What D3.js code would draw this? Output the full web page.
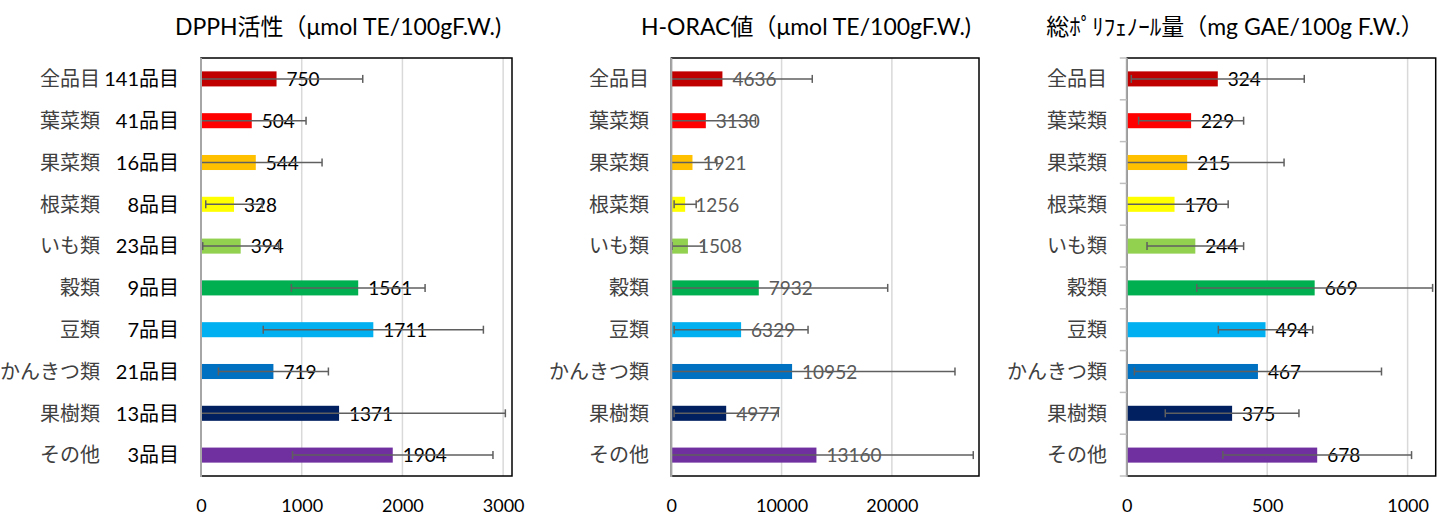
<!DOCTYPE html>
<html>
<head>
<meta charset="utf-8">
<script src="https://cdn.jsdelivr.net/npm/d3@7"></script>
<style>
  body { margin: 0; background: #fff; }
  svg text { font-family: Lato, "Noto Sans CJK JP", sans-serif; }
</style>
</head>
<body>
<div id="chart"></div>
<script>
// categories and item counts (counts only shown on the first panel)
const categories = ["全品目", "葉菜類", "果菜類", "根菜類", "いも類", "穀類", "豆類", "かんきつ類", "果樹類", "その他"];
const itemCounts = ["141品目", "41品目", "16品目", "8品目", "23品目", "9品目", "7品目", "21品目", "13品目", "3品目"];
const barColors = ["#C00000", "#FF0000", "#FFC000", "#FFFF00", "#92D050", "#00B050", "#00B0F0", "#0070C0", "#002060", "#7030A0"];

// DPPH
const dpphMean = [750, 504, 544, 328, 394, 1561, 1711, 719, 1371, 1904];
const dpphSd = [856, 539, 658, 281, 377, 664, 1093, 546, 1651, 995];
const dpphTicks = [0, 1000, 2000, 3000];

// H-ORAC
const oracMean = [4636, 3130, 1921, 1256, 1508, 7932, 6329, 10952, 4977, 13160];
const oracSd = [8147, 4500, 2200, 1000, 1430, 11690, 6070, 14770, 4720, 14220];
const oracTicks = [0, 10000, 20000];

// total polyphenol
const polyMean = [324, 229, 215, 170, 244, 669, 494, 467, 375, 678];
const polySd = [308, 187, 345, 191, 172, 420, 168, 440, 238, 336];
const polyTicks = [0, 500, 1000];

const width = 1446, height = 515;
const plotTop = 58, plotBottom = 476;

const svg = d3.select("#chart").append("svg")
    .attr("width", width)
    .attr("height", height);

function drawPanel(opt) {
    let g = svg.append("g");
    let x = d3.scaleLinear().domain([0, opt.max]).range([opt.left, opt.right]);
    let y = d3.scaleBand().domain(categories).range([plotTop, plotBottom]).paddingInner(0.64).paddingOuter(0.32);

    // title
    g.append("text")
        .attr("x", opt.titleX).attr("y", 35)
        .attr("text-anchor", "middle")
        .style("font-size", "23px")
        .attr("fill", "#000")
        .text(opt.title);

    // gridlines
    g.append("g")
        .selectAll("line").data(opt.ticks.filter(t => t > 0))
        .join("line")
        .attr("x1", d => x(d)).attr("x2", d => x(d))
        .attr("y1", plotTop).attr("y2", plotBottom)
        .attr("stroke", "#d9d9d9").attr("stroke-width", 1.5);

    // plot border
    g.append("rect")
        .attr("x", opt.left).attr("y", plotTop)
        .attr("width", opt.right - opt.left).attr("height", plotBottom - plotTop)
        .attr("fill", "none").attr("stroke", "#000").attr("stroke-width", 1.5);

    // bars
    g.append("g").selectAll("rect").data(opt.mean)
        .join("rect")
        .attr("x", x(0))
        .attr("y", (d, i) => y(categories[i]))
        .attr("width", d => x(d) - x(0))
        .attr("height", y.bandwidth())
        .attr("fill", (d, i) => barColors[i]);

    // data labels
    g.append("g").selectAll("text").data(opt.mean)
        .join("text")
        .attr("x", d => x(d) + 10)
        .attr("y", (d, i) => y(categories[i]) + y.bandwidth() / 2)
        .attr("dy", "0.38em")
        .style("font-size", "19px")
        .attr("fill", opt.labelColor)
        .text(d => d);

    // error bars (clipped at zero like the original)
    let eb = g.append("g").attr("stroke", "#5f5f5f").attr("stroke-width", 1.5);
    opt.mean.forEach((m, i) => {
        let cy = y(categories[i]) + y.bandwidth() / 2;
        let lo = m - opt.sd[i], hi = m + opt.sd[i];
        let xl = x(Math.max(0, lo)), xh = x(hi);
        eb.append("line").attr("x1", xl).attr("x2", xh).attr("y1", cy).attr("y2", cy);
        eb.append("line").attr("x1", xh).attr("x2", xh).attr("y1", cy - 4).attr("y2", cy + 4);
        if (lo > 0) {
            eb.append("line").attr("x1", xl).attr("x2", xl).attr("y1", cy - 4).attr("y2", cy + 4);
        }
    });

    // left axis line
    g.append("line")
        .attr("x1", opt.left).attr("x2", opt.left)
        .attr("y1", plotTop).attr("y2", plotBottom + 1)
        .attr("stroke", "#a6a6a6").attr("stroke-width", 2);

    if (opt.catTicks) {
        // tick marks between categories
        let bounds = categories.map(c => y(c) - (y.step() - y.bandwidth()) / 2);
        bounds.push(plotBottom);
        g.append("g").selectAll("line").data(bounds)
            .join("line")
            .attr("x1", opt.left - 7).attr("x2", opt.left)
            .attr("y1", d => d).attr("y2", d => d)
            .attr("stroke", "#bfbfbf").attr("stroke-width", 1.5);
    }

    // bottom tick labels
    let xAxis = d3.axisBottom(x).tickValues(opt.ticks).tickFormat(d3.format("d")).tickSize(0).tickPadding(23);
    let ax = g.append("g")
        .attr("transform", "translate(0," + plotBottom + ")")
        .call(xAxis);
    ax.select(".domain").remove();
    ax.selectAll("text")
        .style("font-size", "18px")
        .style("font-family", "Lato, 'Noto Sans CJK JP', sans-serif")
        .attr("fill", "#000");

    // category labels
    let cl = g.append("g");
    categories.forEach((c, i) => {
        let cy = y(c) + y.bandwidth() / 2;
        let nameEnd = opt.nameEnd;
        if (opt.counts) {
            let t = cl.append("text")
                .attr("x", opt.countEnd).attr("y", cy).attr("dy", "0.36em")
                .attr("text-anchor", "end")
                .style("font-size", "20px")
                .attr("fill", "#000")
                .text(opt.counts[i]);
            let w = t.node().getComputedTextLength();
            nameEnd = Math.min(nameEnd, opt.countEnd - w);
        }
        cl.append("text")
            .attr("x", nameEnd).attr("y", cy).attr("dy", "0.36em")
            .attr("text-anchor", "end")
            .style("font-size", "20px")
            .attr("fill", "#404040")
            .text(c);
    });
}

drawPanel({
    title: "DPPH活性（μmol TE/100gF.W.)", titleX: 338,
    left: 201, right: 512, max: 3088, ticks: dpphTicks,
    mean: dpphMean, sd: dpphSd, labelColor: "#000",
    counts: itemCounts, countEnd: 179, nameEnd: 100
});

drawPanel({
    title: "H-ORAC値（μmol TE/100gF.W.)", titleX: 806,
    left: 671.3, right: 979, max: 27900, ticks: oracTicks,
    mean: oracMean, sd: oracSd, labelColor: "#595959",
    nameEnd: 649
});

drawPanel({
    title: "総ﾎﾟﾘﾌｪﾉｰﾙ量（mg GAE/100g F.W.）", titleX: 1235,
    left: 1126.8, right: 1435.7, max: 1100, ticks: polyTicks,
    mean: polyMean, sd: polySd, labelColor: "#000",
    nameEnd: 1107, catTicks: true
});
</script>
</body>
</html>
